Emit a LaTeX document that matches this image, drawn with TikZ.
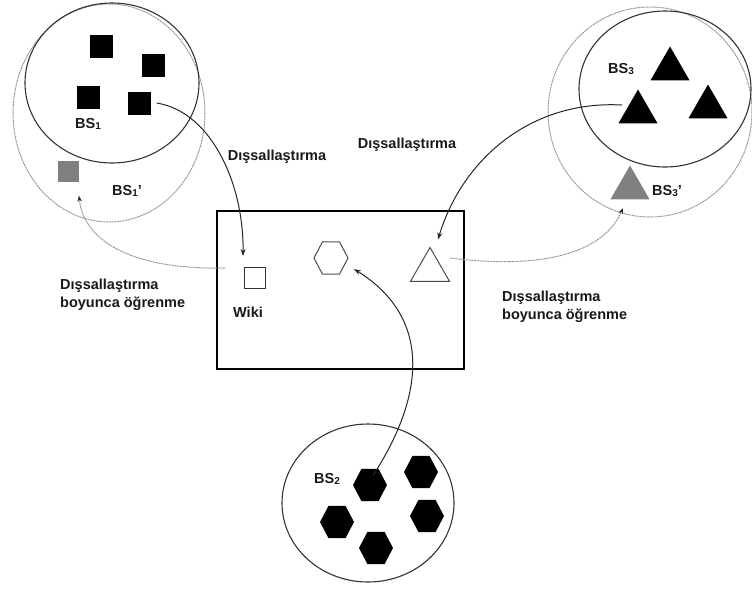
\documentclass[tikz,border=0pt]{standalone}
\usepackage{fontspec}
\setmainfont{Liberation Sans}
\usetikzlibrary{arrows.meta,shapes.geometric}

% subscripted group label, e.g. \bs{1}
\newcommand{\bs}[1]{BS{\fontsize{10}{10}\selectfont\raisebox{-1pt}{#1}}}

\begin{document}
\begin{tikzpicture}[x=1pt,y=-1pt,
  lbl/.style={font=\bfseries\fontsize{14.5}{18}\selectfont, inner sep=0pt, text=black!90},
  ring/.style={ellipse, draw=black!80, line width=1.1pt, inner sep=0pt},
  ghostring/.style={ellipse, draw=black!40, line width=1pt, dash pattern=on 2pt off 0.7pt, inner sep=0pt},
  blk/.style={rectangle, fill=black, minimum size=23pt, inner sep=0pt},
  hexa/.style={regular polygon, regular polygon sides=6, minimum size=34pt, inner sep=0pt, yscale=1.1, transform shape},
  trio/.style={regular polygon, regular polygon sides=3, minimum size=45pt, inner sep=0pt},
  flow/.style={draw=black!85, line width=1pt, -{Stealth[length=7pt,width=5pt]}},
  ghostflow/.style={draw=black!40, line width=1pt, dash pattern=on 2pt off 0.7pt,
    -{Stealth[length=6pt,width=4.5pt,color=black!85]}}
]
\useasboundingbox (0,0) rectangle (752,590);

% group rings
\node[ghostring, minimum width=192pt, minimum height=218pt] (g1) at (109,113) {};
\node[ring, minimum width=174pt, minimum height=160pt] (c1) at (112,83) {};
\node[ghostring, minimum width=204pt, minimum height=210pt] (g3) at (650,112) {};
\node[ring, minimum width=172pt, minimum height=156pt] (c3) at (665,89) {};
\node[ring, minimum width=172pt, minimum height=158pt] (c2) at (368,503) {};

% shared wiki space
\node[draw=black, line width=1.3pt, minimum width=247pt, minimum height=158pt, inner sep=0pt] (wikibox) at (340.5,290) {};

% group 1: squares
\node[blk] (s1) at (101,46) {};
\node[blk] (s2) at (153,65) {};
\node[blk] (s3) at (88,97) {};
\node[blk] (s4) at (139,103) {};
\node[rectangle, fill=black!50, minimum size=21pt, inner sep=0pt] (s5) at (68,171) {};
\node[lbl] (l1) at (88,124) {\bs{1}};
\node[lbl] (l1b) at (127,191) {\bs{1}'};

% group 3: triangles
\node[trio, fill=black] (t1) at (670,69) {};
\node[trio, fill=black] (t2) at (638,112) {};
\node[trio, fill=black] (t3) at (708,107) {};
\node[trio, fill=black!50] (t4) at (630,188) {};
\node[lbl] (l3) at (621,69) {\bs{3}};
\node[lbl] (l3b) at (667,191) {\bs{3}'};

% group 2: hexagons
\node[hexa, fill=black] (h1) at (370,485) {};
\node[hexa, fill=black] (h2) at (421,472) {};
\node[hexa, fill=black] (h3) at (337,522) {};
\node[hexa, fill=black] (h4) at (427,516) {};
\node[hexa, fill=black] (h5) at (376,548) {};
\node[lbl] (l2) at (327,479) {\bs{2}};

% items inside the wiki
\node[rectangle, draw=black!80, line width=1pt, minimum size=21pt, inner sep=0pt] (wsq) at (255,278) {};
\node[hexa, draw=black!70, line width=1pt] (whex) at (331,258) {};
\node[trio, draw=black!70, line width=1pt] (wtri) at (430,270) {};
\node[lbl] (wl) at (248,312) {Wiki};

% captions
\node[lbl] (e1) at (277,157) {Dışsallaştırma};
\node[lbl] (e3) at (407,145) {Dışsallaştırma};
\node[lbl, anchor=north west, align=left] (d1) at (60,279) {Dışsallaştırma\\boyunca öğrenme};
\node[lbl, anchor=north west, align=left] (d3) at (502,291) {Dışsallaştırma\\boyunca öğrenme};

% free ends of the connectors
\coordinate (a1s) at ([xshift=6pt]s4.east);
\coordinate (a1e) at ([xshift=-1pt,yshift=11pt]wsq.north west);
\coordinate (a2s) at (225,268);
\coordinate (a2e) at ([xshift=11pt,yshift=-14pt]s5.south);
\coordinate (a3s) at (622,105);
\coordinate (a3e) at ([xshift=8pt,yshift=7pt]wtri.corner 1);
\coordinate (a4s) at (450,258);
\coordinate (a4e) at (623,208);
\coordinate (a5s) at ([xshift=3pt,yshift=-7pt]h1.north);
\coordinate (a5e) at (354,269);

% externalisation
\draw[flow] (a1s) .. controls (212,112) and (244,185) .. (a1e);
\draw[flow] (a3s) .. controls (530,100) and (462,160) .. (a3e);
\draw[flow] (a5s) .. controls (425,395) and (432,318) .. (a5e);

% learning through externalisation
\draw[ghostflow] (a2s) .. controls (140,270) and (84,245) .. (a2e);
\draw[ghostflow] (a4s) .. controls (545,270) and (604,252) .. (a4e);
\end{tikzpicture}
\end{document}
